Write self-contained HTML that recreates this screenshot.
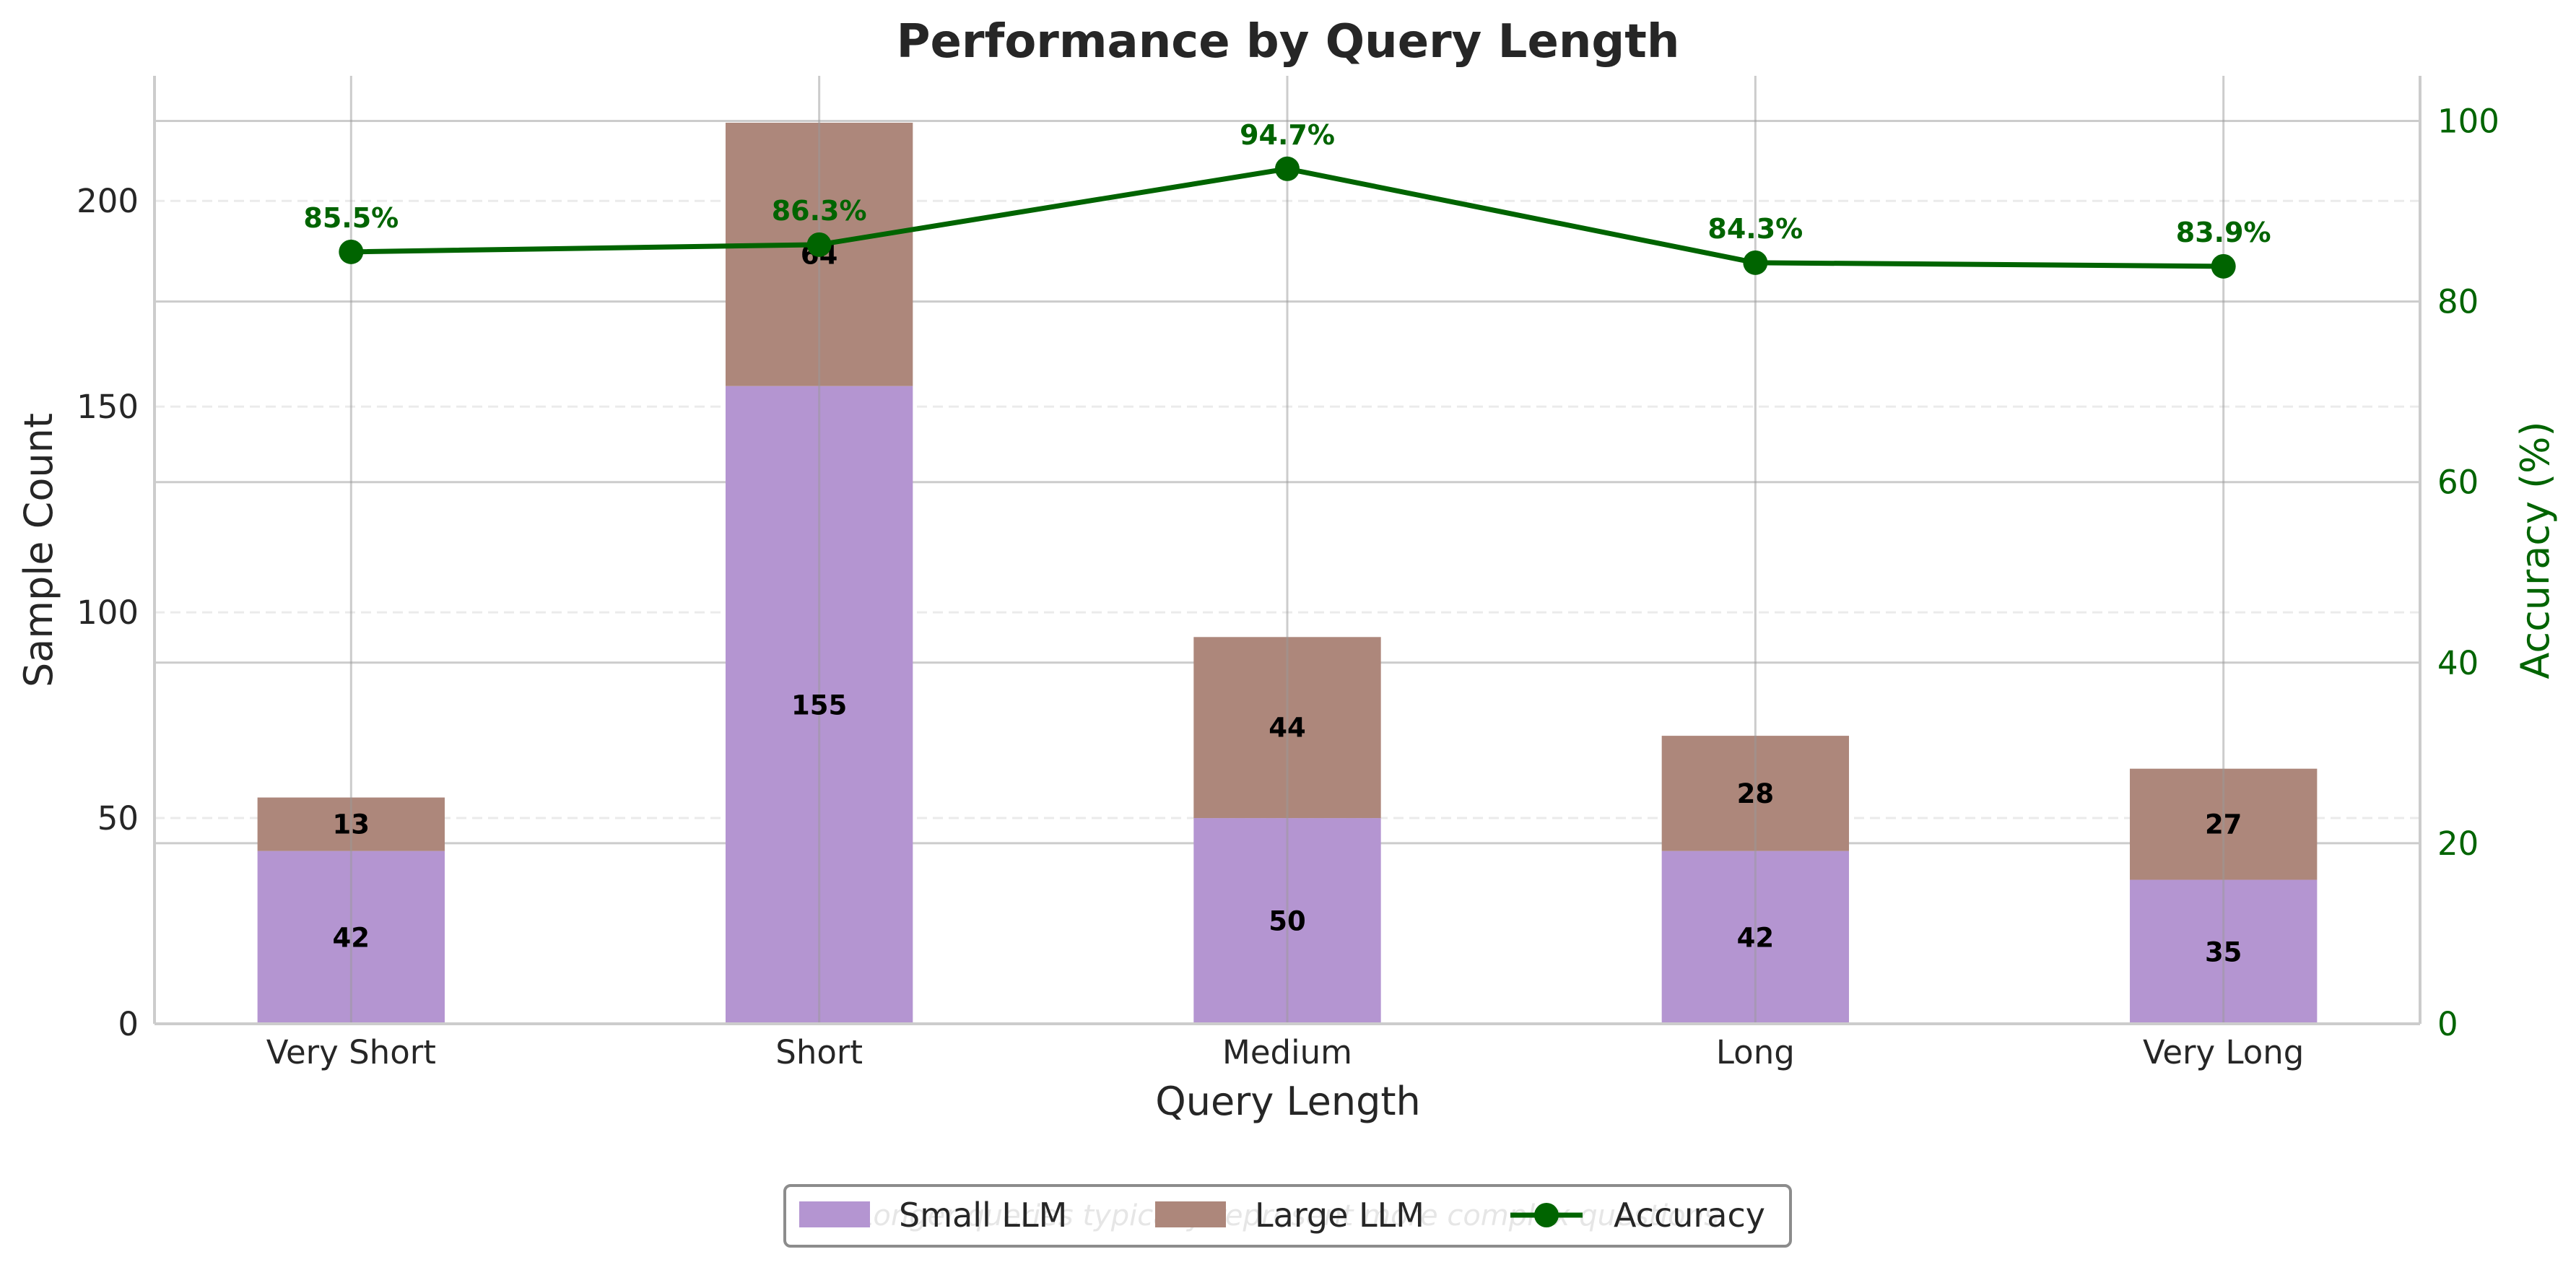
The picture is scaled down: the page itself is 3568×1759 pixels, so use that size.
<!DOCTYPE html>
<html><head><meta charset="utf-8"><style>
html,body{margin:0;padding:0;background:#fff}
svg{display:block;font-family:"DejaVu Sans","Liberation Sans",sans-serif}
</style></head><body>
<svg id="chart" width="3568" height="1759" viewBox="0 0 3568 1759" xmlns="http://www.w3.org/2000/svg"></svg>
<script>
const categories = ["Very Short","Short","Medium","Long","Very Long"];
const smallLLM = [42,155,50,42,35];
const largeLLM = [13,64,44,28,27];
const accuracy = [85.5,86.3,94.7,84.3,83.9];
const leftTicks = [0,50,100,150,200];
const rightTicks = [0,20,40,60,80,100];

const NS="http://www.w3.org/2000/svg";
const svg=document.getElementById('chart');
const L=214,R=3352,T=105,B=1418;
const xMin=-0.42,xMax=4.42,yMax=230.4,y2Max=105;
const xs=i=>L+(i-xMin)/(xMax-xMin)*(R-L);
const ys=v=>B-v/yMax*(B-T);
const y2=v=>B-v/y2Max*(B-T);
function mk(tag,attrs,parent){const e=document.createElementNS(NS,tag);for(const k in attrs)e.setAttribute(k,attrs[k]);(parent||svg).appendChild(e);return e;}
function txt(s,attrs,parent){const e=mk('text',attrs,parent);e.textContent=s;return e;}

leftTicks.forEach(v=>{const l=mk('line',{x1:L,x2:R,y1:ys(v),y2:ys(v),stroke:'#ebebeb','stroke-width':3,'stroke-dasharray':'14,8'});

});
rightTicks.forEach(v=>{const l=mk('line',{x1:L,x2:R,y1:y2(v),y2:y2(v),stroke:'#cccccc','stroke-width':3});

});

const bw=0.4*(xs(1)-xs(0));
categories.forEach((c,i)=>{
  const x=xs(i);
  const s=mk('rect',{x:x-bw/2,y:ys(smallLLM[i]),width:bw,height:ys(0)-ys(smallLLM[i]),fill:'#b495d1'});
  
  
  const top=smallLLM[i]+largeLLM[i];
  const g=mk('rect',{x:x-bw/2,y:ys(top),width:bw,height:ys(smallLLM[i])-ys(top),fill:'#ad877b'});
  
  
});
categories.forEach((c,i)=>{const l=mk('line',{x1:xs(i),x2:xs(i),y1:T,y2:B,stroke:'#999','stroke-opacity':0.5,'stroke-width':3});

});
categories.forEach((c,i)=>{
  const a=txt(String(smallLLM[i]),{x:xs(i),y:ys(smallLLM[i]/2)+13,'text-anchor':'middle','font-size':37,'font-weight':'bold',fill:'#000'});
  
  
  const b=txt(String(largeLLM[i]),{x:xs(i),y:ys(smallLLM[i]+largeLLM[i]/2)+13,'text-anchor':'middle','font-size':37,'font-weight':'bold',fill:'#000'});
  
  
});
[[L,T,L,B],[R,T,R,B],[L,B,R,B]].forEach(p=>{const l=mk('line',{x1:p[0],y1:p[1],x2:p[2],y2:p[3],stroke:'#cccccc','stroke-width':4});

});
const pl=mk('polyline',{points:accuracy.map((v,i)=>xs(i)+','+y2(v)).join(' '),fill:'none',stroke:'#006400','stroke-width':7});


accuracy.forEach((v,i)=>{
  const c=mk('circle',{cx:xs(i),cy:y2(v),r:17,fill:'#006400'});
  
  
  const t=txt(v.toFixed(1)+'%',{x:xs(i),y:y2(v)-34,'text-anchor':'middle','font-size':38,'font-weight':'bold',fill:'#006400'});
  
  
});
leftTicks.forEach(v=>{const t=txt(String(v),{x:L-22,y:ys(v)+16,'text-anchor':'end','font-size':45,fill:'#262626'});

});
rightTicks.forEach(v=>{const t=txt(String(v),{x:R+24,y:y2(v)+16,'text-anchor':'start','font-size':45,fill:'#006400'});

});
categories.forEach((c,i)=>{const t=txt(c,{x:xs(i),y:1473,'text-anchor':'middle','font-size':45,fill:'#262626'});

});
</script>
<svg style="position:absolute;left:0;top:0" width="3568" height="1759">
<text x="1784" y="79" text-anchor="middle" font-family="DejaVu Sans, Liberation Sans, sans-serif" font-size="64" font-weight="bold" fill="#262626">Performance by Query Length</text>
<text x="1784" y="1544" text-anchor="middle" font-family="DejaVu Sans, Liberation Sans, sans-serif" font-size="54" fill="#262626">Query Length</text>
<text transform="translate(72,762) rotate(-90)" text-anchor="middle" font-family="DejaVu Sans, Liberation Sans, sans-serif" font-size="54" fill="#262626">Sample Count</text>
<text transform="translate(3530,762) rotate(-90)" text-anchor="middle" font-family="DejaVu Sans, Liberation Sans, sans-serif" font-size="54" fill="#006400">Accuracy (%)</text>
<g font-family="DejaVu Sans, Liberation Sans, sans-serif">
<rect x="1087" y="1642" width="1393" height="84" rx="8" fill="#fff" stroke="#8c8c8c" stroke-width="4"/>
<text x="1784" y="1697" text-anchor="middle" font-size="40" font-style="italic" fill="#e6e6e6">Longer queries typically represent more complex questions</text>
<rect x="1107" y="1664" width="98" height="36" fill="#b495d1"/>
<text x="1245" y="1699" font-size="46" fill="#262626">Small LLM</text>
<rect x="1600" y="1664" width="98" height="36" fill="#ad877b"/>
<text x="1738" y="1699" font-size="46" fill="#262626">Large LLM</text>
<line x1="2092" y1="1683" x2="2192" y2="1683" stroke="#006400" stroke-width="7"/>
<circle cx="2142" cy="1683" r="17" fill="#006400"/>
<text x="2235" y="1699" font-size="46" fill="#262626">Accuracy</text>
</g>
</svg>
</body></html>
